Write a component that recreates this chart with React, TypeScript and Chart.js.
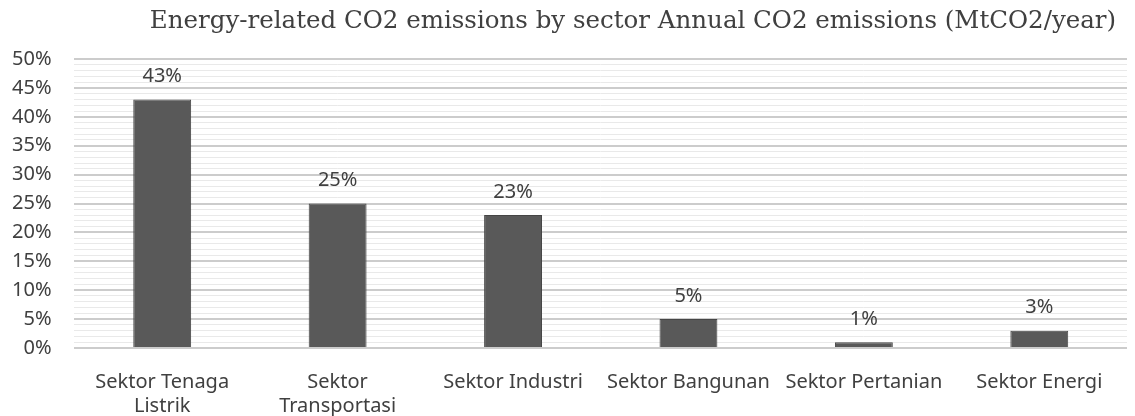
import React, { useEffect, useRef } from "react";
import { Chart, registerables } from "chart.js";

Chart.register(...registerables);

const categories: (string | string[])[] = [
  ["Sektor Tenaga", "Listrik"],
  ["Sektor", "Transportasi"],
  "Sektor Industri",
  "Sektor Bangunan",
  "Sektor Pertanian",
  "Sektor Energi",
];
const shares = [43, 25, 23, 5, 1, 3];
const titleText =
  "Energy-related CO2 emissions by sector Annual CO2 emissions (MtCO2/year)";

const labelFont = '"Noto Sans"';
const textColor = "#404040";

// Bar value labels ("43%") above each bar
const valueLabels = {
  id: "valueLabels",
  afterDatasetsDraw(chart: Chart) {
    const ctx = chart.ctx;
    const meta = chart.getDatasetMeta(0);
    ctx.save();
    ctx.font = `20px ${labelFont}`;
    ctx.fillStyle = textColor;
    ctx.textAlign = "center";
    ctx.textBaseline = "middle";
    meta.data.forEach((bar: any, i: number) => {
      ctx.fillText(shares[i] + "%", bar.x, bar.y - 23);
    });
    ctx.restore();
  },
};

// Chart heading, placed slightly right of the canvas centre
const heading = {
  id: "heading",
  afterDraw(chart: Chart) {
    const ctx = chart.ctx;
    ctx.save();
    ctx.font = '24.5px "DejaVu Serif"';
    ctx.fillStyle = textColor;
    ctx.textAlign = "center";
    ctx.textBaseline = "middle";
    ctx.fillText(titleText, 633, 22);
    ctx.restore();
  },
};

export default function App() {
  const ref = useRef<HTMLCanvasElement>(null);
  useEffect(() => {
    const chart = new Chart(ref.current!, {
      type: "bar",
      data: {
        labels: categories,
        datasets: [
          {
            data: shares,
            backgroundColor: "#595959",
            borderColor: "#454545",
            borderWidth: 1,
            categoryPercentage: 1,
            barPercentage: 0.33,
          },
        ],
      },
      options: {
        animation: false,
        responsive: false,
        layout: { padding: { top: 59, right: 8, left: -11, bottom: -16 } },
        plugins: {
          legend: { display: false },
          tooltip: { enabled: false },
          title: { display: false },
        },
        scales: {
          x: {
            grid: { display: false },
            border: { display: false },
            ticks: {
              color: textColor,
              font: { family: labelFont, size: 20, lineHeight: 1.2 },
              maxRotation: 0,
              autoSkip: false,
              padding: 14,
            },
          },
          y: {
            min: 0,
            max: 50,
            border: { display: false },
            grid: {
              drawTicks: false,
              color: (c: any) =>
                c.tick && c.tick.value % 5 === 0 ? "#cccccc" : "#e9e9e9",
              lineWidth: (c: any) => (c.tick && c.tick.value % 5 === 0 ? 2 : 1),
            },
            ticks: {
              stepSize: 1,
              autoSkip: false,
              padding: 23,
              color: textColor,
              font: { family: labelFont, size: 20 },
              callback: (v: any) => (Number(v) % 5 === 0 ? v + "%" : ""),
            },
          },
        },
      },
      plugins: [valueLabels, heading],
    });
    return () => chart.destroy();
  }, []);
  return (
    <div style={{ position: "fixed", left: 0, top: 0, width: 1135, height: 416, background: "#fff" }}>
      <canvas ref={ref} width={1135} height={416} />
    </div>
  );
}
